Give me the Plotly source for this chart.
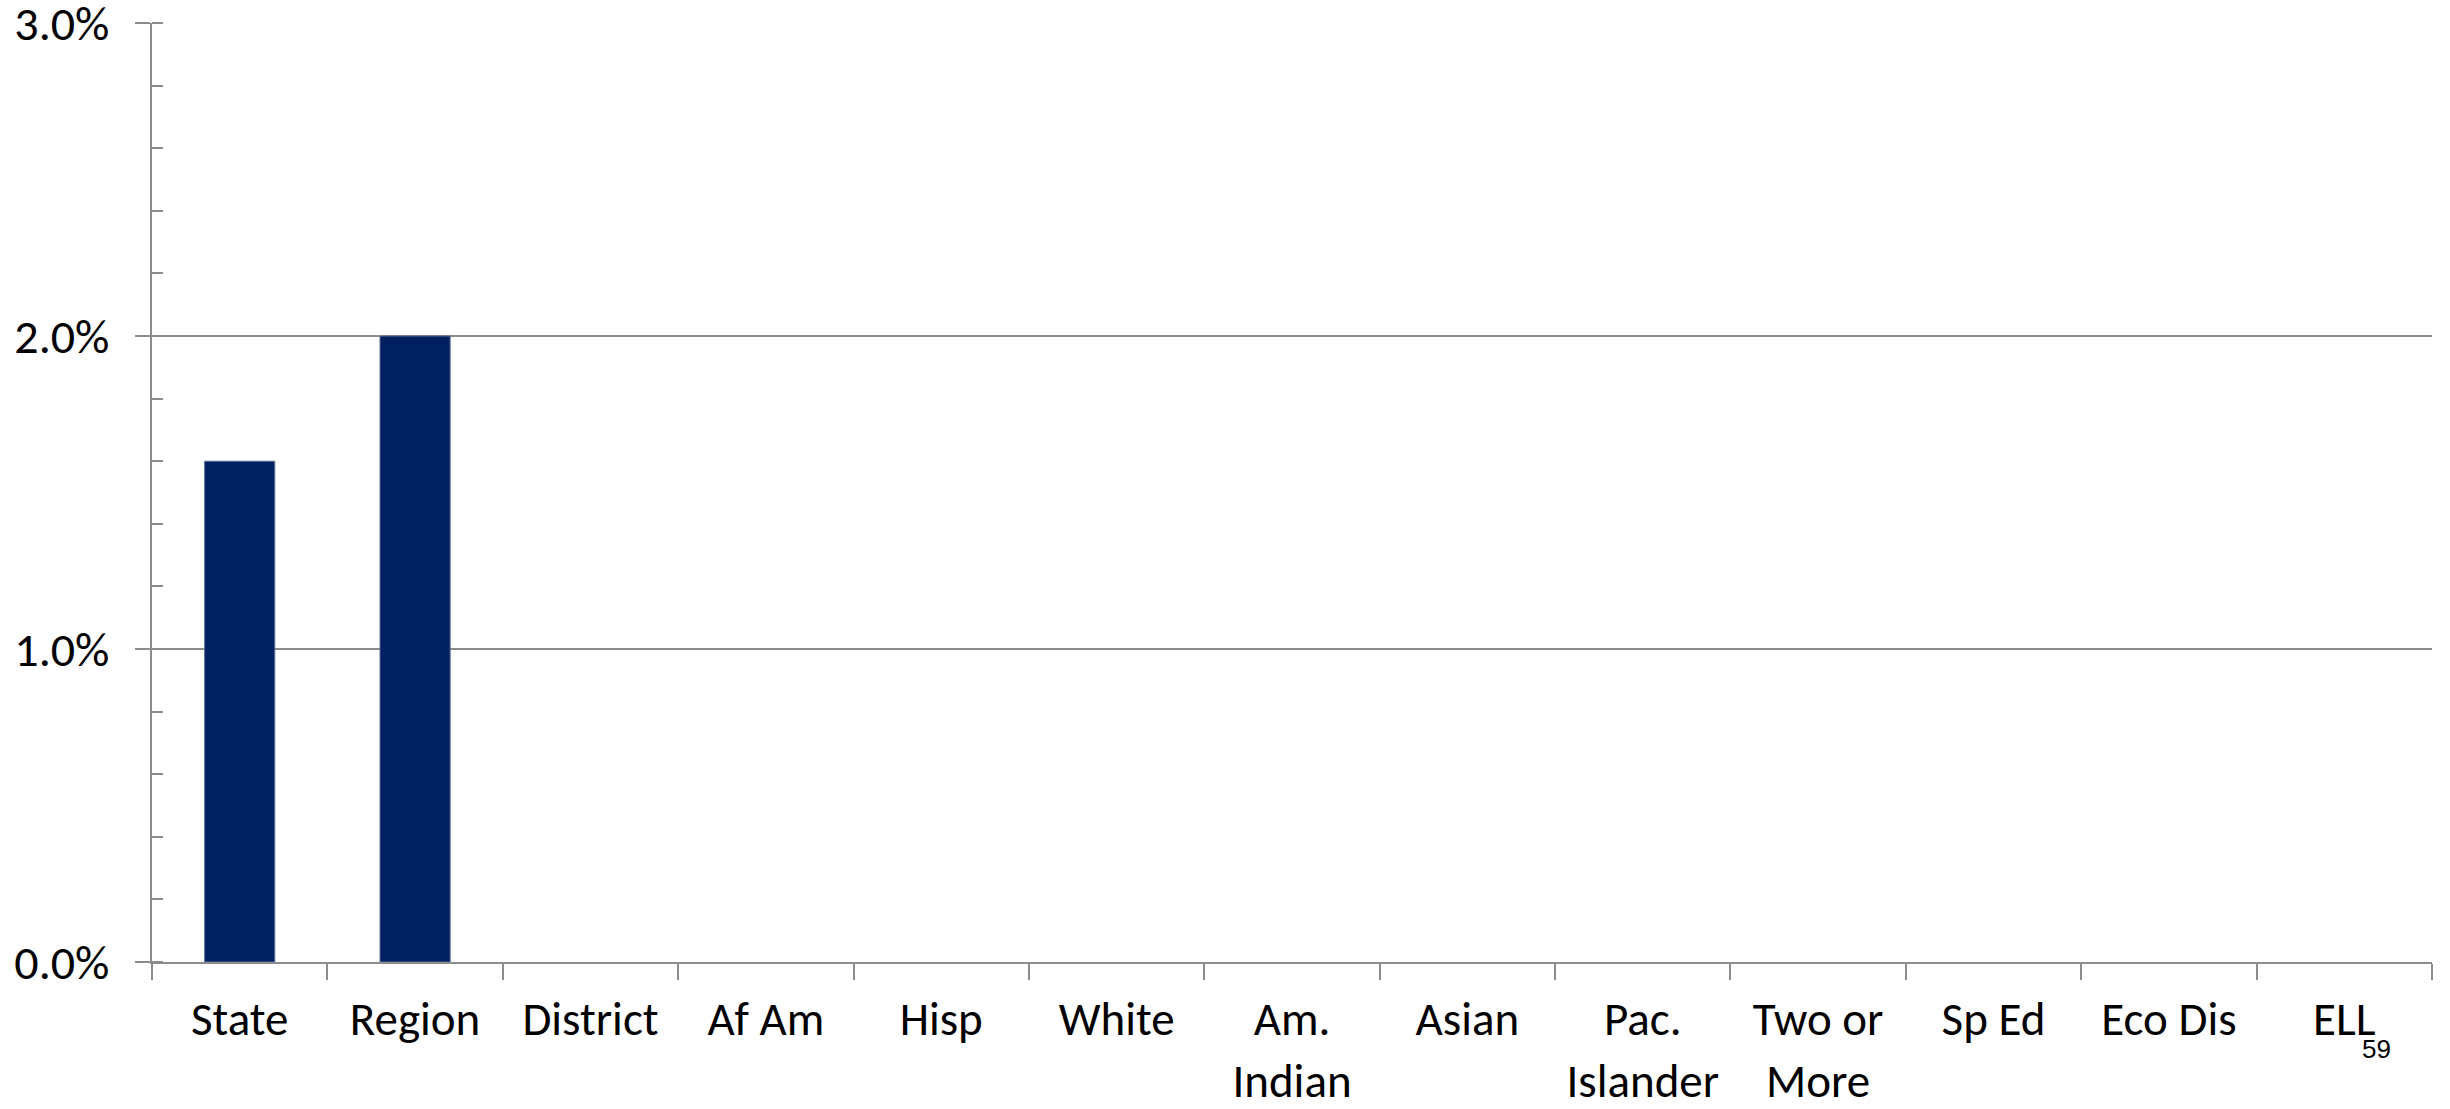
import plotly.graph_objects as go

categories = ["State", "Region", "District", "Af Am", "Hisp", "White",
              "Am.<br>Indian", "Asian", "Pac.<br>Islander", "Two or<br>More",
              "Sp Ed", "Eco Dis", "ELL"]
values = [0.016, 0.020, None, None, None, None, None, None, None, None,
          None, None, None]
y_ticks = [0.0, 0.01, 0.02, 0.03]
page_number = "59"

W, H = 2450, 1109
ML, MR, MT, MB = 152, 18, 23, 147
font_family = "Carlito, Lato, 'Open Sans', sans-serif"
grid_color = "#8c8c8c"

fig = go.Figure()

fig.add_trace(
    go.Bar(
        x=categories,
        y=values,
        marker=dict(color="#002060", line=dict(color="#5a6d96", width=1)),
        width=0.4,
        showlegend=False
    )
)

fig.update_xaxes(
    type="category",
    automargin=False,
    showline=True,
    linecolor=grid_color,
    linewidth=2,
    ticks="outside",
    tickson="boundaries",
    ticklen=16,
    tickwidth=2,
    tickcolor=grid_color,
    showgrid=False,
    tickfont=dict(family=font_family, size=47, color="#000000"),
    ticklabelstandoff=15
)

fig.update_yaxes(
    range=[0, 0.030001],
    automargin=False,
    tickvals=y_ticks,
    tickformat=".1%",
    ticklabeloverflow="allow",
    showline=True,
    linecolor=grid_color,
    linewidth=2,
    ticks="outside",
    ticklen=15,
    tickwidth=2,
    tickcolor=grid_color,
    showgrid=True,
    gridcolor=grid_color,
    gridwidth=2,
    zeroline=False,
    tickfont=dict(family=font_family, size=48, color="#000000"),
    ticklabelstandoff=16,
    minor=dict(ticks="inside", dtick=0.002, ticklen=11, tickwidth=2,
               tickcolor=grid_color, showgrid=False)
)

# ページ番号
fig.add_annotation(
    text=page_number,
    x=(2360 - ML) / (W - ML - MR),
    y=-(1032 - (H - MB)) / (H - MT - MB),
    xref="paper", yref="paper",
    xanchor="left", yanchor="top",
    showarrow=False,
    font=dict(family="Liberation Sans, Arial, sans-serif", size=26, color="#000000")
)

fig.update_layout(
    width=W,
    height=H,
    margin=dict(l=ML, r=MR, t=MT, b=MB),
    plot_bgcolor="#ffffff",
    paper_bgcolor="#ffffff",
    bargap=0.6
)

fig.write_html("out.html", config={"displayModeBar": False},
               post_script="document.body.style.margin='0';")
